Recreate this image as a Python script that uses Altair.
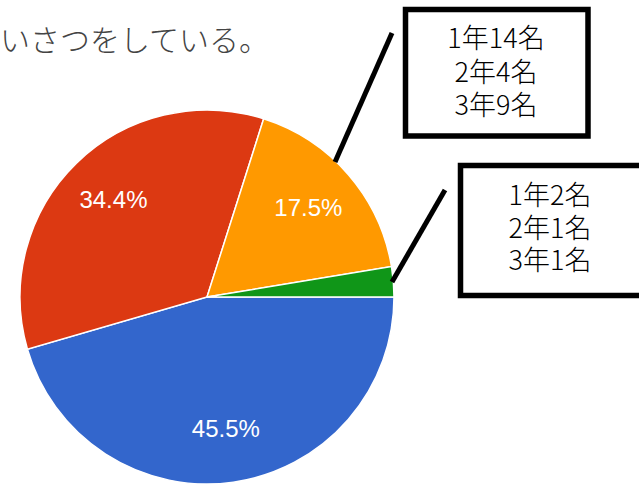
import math
import altair as alt
import pandas as pd

# ---- data ----
categories = ["選択肢1", "選択肢2", "選択肢3", "選択肢4"]
shares = [45.5, 34.4, 17.5, 2.6]
slice_labels = ["45.5%", "34.4%", "17.5%", ""]
slice_order = [0, 1, 2, 3]
colors = ["#3366cc", "#dc3912", "#ff9900", "#109618"]

title_text = "いさつをしている。"
box1_lines = ["1年14名", "2年4名", "3年9名"]
box2_lines = ["1年2名", "2年1名", "3年1名"]

W, H = 639, 484
CX, CY, R = 207, 297, 187

df = pd.DataFrame({"cat": categories, "share": shares,
                   "label": slice_labels, "ord": slice_order})

theta = alt.Theta("share:Q", stack=True,
                  scale=alt.Scale(range=[math.pi / 2, math.pi / 2 + 2 * math.pi]))

pie = alt.Chart(df).mark_arc(radius=R, stroke="white", strokeWidth=1.5).encode(
    theta=theta,
    color=alt.Color("cat:N", scale=alt.Scale(domain=categories, range=colors), legend=None),
    order=alt.Order("ord:Q"),
    x=alt.value(CX), y=alt.value(CY),
)

labels = alt.Chart(df).mark_text(
    radius=134, fontSize=24, color="white", font="Liberation Sans",
    align="center", baseline="middle",
).encode(
    theta=theta,
    text="label:N",
    detail="cat:N",
    order=alt.Order("ord:Q"),
    x=alt.value(CX), y=alt.value(CY),
)

one = pd.DataFrame({"k": [0]})

title = alt.Chart(pd.DataFrame({"t": [title_text]})).mark_text(
    align="left", baseline="middle", fontSize=30, font="Noto Sans CJK JP",
    fontWeight=300, color="#444444",
).encode(text="t:N", x=alt.value(0), y=alt.value(42))

line1 = alt.Chart(one).mark_rule(color="black", strokeWidth=5).encode(
    x=alt.value(392), y=alt.value(33), x2=alt.value(335), y2=alt.value(162))
line2 = alt.Chart(one).mark_rule(color="black", strokeWidth=5).encode(
    x=alt.value(445), y=alt.value(190), x2=alt.value(392), y2=alt.value(282))

box1 = alt.Chart(one).mark_rect(fill="white", stroke="black", strokeWidth=5.5).encode(
    x=alt.value(405.5), x2=alt.value(588), y=alt.value(9.5), y2=alt.value(136))
box2 = alt.Chart(one).mark_rect(fill="white", stroke="black", strokeWidth=5.5).encode(
    x=alt.value(460.5), x2=alt.value(670), y=alt.value(165.5), y2=alt.value(295.5))


def text_line(s, x, y):
    return alt.Chart(pd.DataFrame({"t": [s]})).mark_text(
        align="center", baseline="middle", fontSize=27,
        font="Noto Sans CJK JP", fontWeight=300, color="black",
    ).encode(text="t:N", x=alt.value(x), y=alt.value(y))


box_texts = [text_line(s, 496, y) for s, y in zip(box1_lines, [40, 74, 107])]
box_texts += [text_line(s, 550, y) for s, y in zip(box2_lines, [197, 230, 262])]

chart = alt.layer(pie, labels, line1, line2, box1, box2, *box_texts, title).properties(
    width=W, height=H, padding=0, autosize=alt.AutoSizeParams(type="none"),
    background="white",
).configure_view(stroke=None)

chart.save("out.html", embed_options={"renderer": "svg", "actions": False})
